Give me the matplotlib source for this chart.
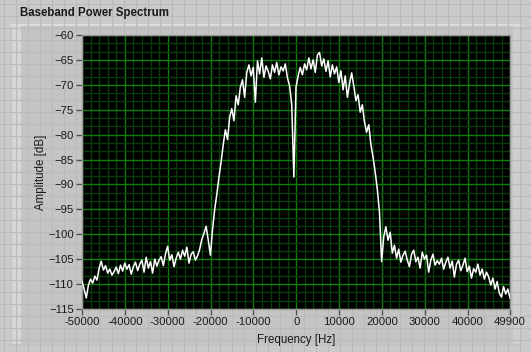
import numpy as np
import matplotlib.pyplot as plt
from matplotlib.patches import Rectangle
from matplotlib.ticker import MultipleLocator

# spectrum, one value every ~500 Hz
amplitude_db = [
    -109.5, -111.0, -112.8, -110.2, -109.0, -109.8, -108.4, -109.2,
    -106.8, -105.4, -107.2, -106.3, -107.8, -107.0, -108.2, -107.5,
    -106.6, -107.9, -106.2, -107.4, -105.8, -107.0, -106.1, -108.0,
    -106.5, -105.6, -107.3, -106.0, -105.2, -107.6, -104.6,
    -106.8, -105.5, -107.8, -105.0, -106.4, -105.2, -104.5, -106.3,
    -104.0, -102.4, -105.2, -104.1, -106.5, -104.8, -103.6, -105.0,
    -103.2, -104.4, -102.6, -105.8, -104.0, -103.5, -105.2, -104.3,
    -103.0, -101.0, -99.8, -98.4, -101.2, -104.2, -99.0, -95.0,
    -92.0, -88.5, -85.5, -82.0, -79.0, -81.0, -76.5, -74.8,
    -77.2, -72.2, -74.0, -70.5, -69.0, -72.5, -67.5, -66.0,
    -68.2, -66.5, -73.5, -65.2, -67.8, -64.6, -68.5, -66.2,
    -67.3, -68.8, -66.0, -67.5, -65.5, -68.0, -66.4,
    -67.2, -65.8, -68.6, -70.2, -74.0, -88.5, -70.5,
    -68.2, -66.5, -68.0, -65.8, -67.0, -64.6, -66.8, -65.0,
    -67.5, -64.0, -63.5, -66.2, -64.8, -67.3, -65.2, -68.4,
    -66.0, -67.8, -66.4, -69.5, -67.2, -71.0, -68.2, -72.5,
    -69.8, -67.6, -70.2, -73.2, -72.0, -75.5, -74.0, -77.5,
    -79.5, -78.0, -82.0, -84.5, -87.5, -91.0, -95.5, -105.5,
    -100.5, -98.5, -101.2, -99.6, -103.8, -102.2, -104.8, -103.0,
    -105.6, -104.2, -103.4, -105.2, -106.5, -104.0, -103.2, -105.5,
    -104.6, -106.8, -103.6, -105.0, -104.2, -107.6, -105.2, -104.0,
    -106.2, -105.3, -106.0, -104.8, -107.0, -105.6, -104.6,
    -106.8, -105.4, -108.6, -106.0, -105.2, -107.3, -106.2, -104.8,
    -107.5, -106.4, -108.8, -106.9, -107.6, -106.0, -108.2, -107.0,
    -109.0, -107.6, -108.5, -110.2, -108.8, -111.0, -109.5, -111.8,
    -112.6, -110.5, -112.0, -111.0, -112.8,
]
freq_hz = np.linspace(-50000, 49900, len(amplitude_db))

x_ticks = [-50000, -40000, -30000, -20000, -10000, 0, 10000, 20000, 30000, 40000, 49900]
y_ticks = list(range(-115, -59, 5))

W, H = 531, 352
fig = plt.figure(figsize=(W / 100, H / 100), dpi=100)
fig.patch.set_facecolor("#cacaca")

# labview panel grid in the background
bg = fig.add_axes([0, 0, 1, 1], zorder=-10)
bg.set_xlim(0, W)
bg.set_ylim(H, 0)
bg.axis("off")
for gx in np.arange(4, W, 12):
    bg.axvline(gx, color="#bababa", lw=0.8)
for gy in np.arange(4, H, 12):
    bg.axhline(gy, color="#bababa", lw=0.8)
# graph control body
bg.add_patch(Rectangle((10, 24), 512, 322, facecolor="#c4c4c4", edgecolor="none"))
bg.add_patch(Rectangle((12, 26), 9, 318, facecolor="#d6d6d6", edgecolor="none"))
bg.add_patch(Rectangle((513, 26), 8, 318, facecolor="#cfcfcf", edgecolor="none"))
bg.add_patch(Rectangle((10, 24), 512, 2, facecolor="#dcdcdc", edgecolor="none"))
bg.text(20, 13, "Baseband Power Spectrum", fontsize=8.3, fontweight="bold",
        family="Liberation Sans", color="#1a1a1a", va="center", ha="left")

left, right, top, bottom = 82, 510, 35, 309
ax = fig.add_axes([left / W, 1 - bottom / H, (right - left) / W, (bottom - top) / H])
ax.set_facecolor("black")
ax.plot(freq_hz, amplitude_db, color="white", lw=1.1, zorder=3)

ax.set_xlim(-50000, 49900)
ax.set_ylim(-115, -60)
ax.set_xticks(x_ticks)
ax.set_xticklabels([str(v) for v in x_ticks])
ax.set_yticks(y_ticks)
ax.xaxis.set_minor_locator(MultipleLocator(2000))
ax.yaxis.set_minor_locator(MultipleLocator(5 / 3))
ax.grid(which="minor", color="#0a3c0a", lw=1.0)
ax.grid(which="major", color="#0c7f0c", lw=1.0)
ax.set_axisbelow(True)
ax.tick_params(which="major", length=4, width=1, color="#505050", labelsize=8.2,
               labelcolor="#1a1a1a", pad=2)
ax.tick_params(which="minor", length=0)
for lab in ax.get_xticklabels() + ax.get_yticklabels():
    lab.set_family("Liberation Sans")
for sp in ax.spines.values():
    sp.set_color("#9a9a9a")
    sp.set_linewidth(1)

ax.set_xlabel("Frequency [Hz]", fontsize=8.3, family="Liberation Sans", color="#1a1a1a", labelpad=5)
ax.set_ylabel("Amplitude [dB]", fontsize=8.3, family="Liberation Sans", color="#1a1a1a", labelpad=1)

fig.savefig("out.png", dpi=100, facecolor=fig.get_facecolor())
